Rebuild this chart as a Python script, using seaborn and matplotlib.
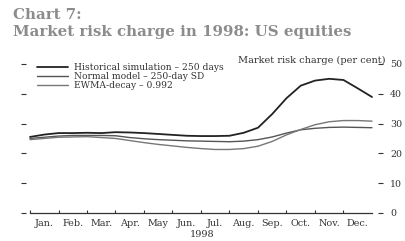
import numpy as np
import pandas as pd
import matplotlib
matplotlib.use('Agg')
import matplotlib.pyplot as plt
import seaborn as sns

# months since 1 Jan 1998, values read every half month
month_pos = np.arange(0, 12.5, 0.5)

historical = [25.5, 26.3, 26.8, 26.8, 26.9, 26.8, 27.1, 27.0, 26.8, 26.5, 26.2, 25.9, 25.8,
              25.8, 25.9, 26.9, 28.6, 33.2, 38.5, 42.7, 44.4, 45.0, 44.6, 41.8, 38.9]
normal_model = [25.0, 25.4, 25.8, 26.0, 26.0, 26.0, 25.9, 25.3, 24.9, 24.6, 24.4, 24.2, 24.1,
                24.0, 23.9, 24.1, 24.6, 25.5, 26.8, 27.9, 28.4, 28.7, 28.8, 28.7, 28.6]
ewma = [24.6, 25.0, 25.4, 25.5, 25.6, 25.3, 25.0, 24.3, 23.6, 23.0, 22.5, 22.0, 21.6,
        21.3, 21.3, 21.6, 22.4, 24.0, 26.2, 28.0, 29.6, 30.6, 31.0, 31.0, 30.8]

series_names = ['Historical simulation – 250 days',
                'Normal model – 250-day SD',
                'EWMA-decay – 0.992']
month_labels = ['Jan.', 'Feb.', 'Mar.', 'Apr.', 'May', 'Jun.',
                'Jul.', 'Aug.', 'Sep.', 'Oct.', 'Nov.', 'Dec.']
y_ticks = [0, 10, 20, 30, 40, 50]

df = pd.concat([
    pd.DataFrame({'month': month_pos, 'charge': vals, 'series': name})
    for name, vals in zip(series_names, [historical, normal_model, ewma])
])

sns.set_theme(style='white')
plt.rcParams['font.family'] = ['DejaVu Serif', 'DejaVu Sans']

fig = plt.figure(figsize=(4.05, 2.41), dpi=100)
W, H = 405, 241
ax = fig.add_axes([21 / W, (H - 213) / H, 362 / W, (213 - 63) / H])

styles = {
    series_names[0]: dict(color='#222222', lw=1.3),
    series_names[1]: dict(color='#555555', lw=1.0),
    series_names[2]: dict(color='#777777', lw=1.0),
}
for name in series_names:
    st = styles[name]
    sns.lineplot(data=df[df['series'] == name], x='month', y='charge', ax=ax,
                 color=st['color'], linewidth=st['lw'], label=name)

ax.set_xlim(-9 / 28.5, 12 + 11 / 28.5)
ax.set_ylim(0, 50.3)

for s in ['top', 'left', 'right']:
    ax.spines[s].set_visible(False)
ax.spines['bottom'].set_bounds(0, 12)
ax.spines['bottom'].set_color('#333333')
ax.spines['bottom'].set_linewidth(0.9)

ax.set_yticks(y_ticks)
ax.tick_params(axis='y', which='major', direction='in', length=3.6, width=0.8,
               colors='#333333', left=True, right=True, labelleft=False,
               labelright=True, pad=5, labelsize=6.8)

ax.set_xticks(range(12))
ax.set_xticks(np.arange(12) + 0.5, minor=True)
ax.set_xticklabels([], minor=False)
ax.set_xticklabels(month_labels, minor=True)
ax.tick_params(axis='x', which='major', direction='in', length=2.2, width=0.8,
               colors='#333333', bottom=True)
ax.tick_params(axis='x', which='minor', length=0, pad=4, labelsize=6.9,
               labelcolor='#333333', bottom=True)

ax.set_xlabel('1998', fontsize=6.9, color='#333333', labelpad=2)
ax.set_ylabel('')

ax.legend(loc='upper left', bbox_to_anchor=(37 / W, (H - 63) / H),
          bbox_transform=fig.transFigure, frameon=False, fontsize=6.6,
          labelspacing=0.0, handlelength=3.4, handletextpad=0.65,
          borderpad=0, borderaxespad=0, labelcolor='#333333')

fig.text(385 / W, (H - 60) / H, 'Market risk charge (per cent)', fontsize=7.0,
         color='#333333', ha='right', va='center')
fig.text(13 / W, (H - 15) / H, 'Chart 7:', fontsize=10.8, fontweight='bold',
         color='#8c8c8c', ha='left', va='center')
fig.text(13 / W, (H - 32) / H, 'Market risk charge in 1998: US equities',
         fontsize=10.8, fontweight='bold', color='#8c8c8c', ha='left', va='center')

fig.savefig('out.png', dpi=100)
